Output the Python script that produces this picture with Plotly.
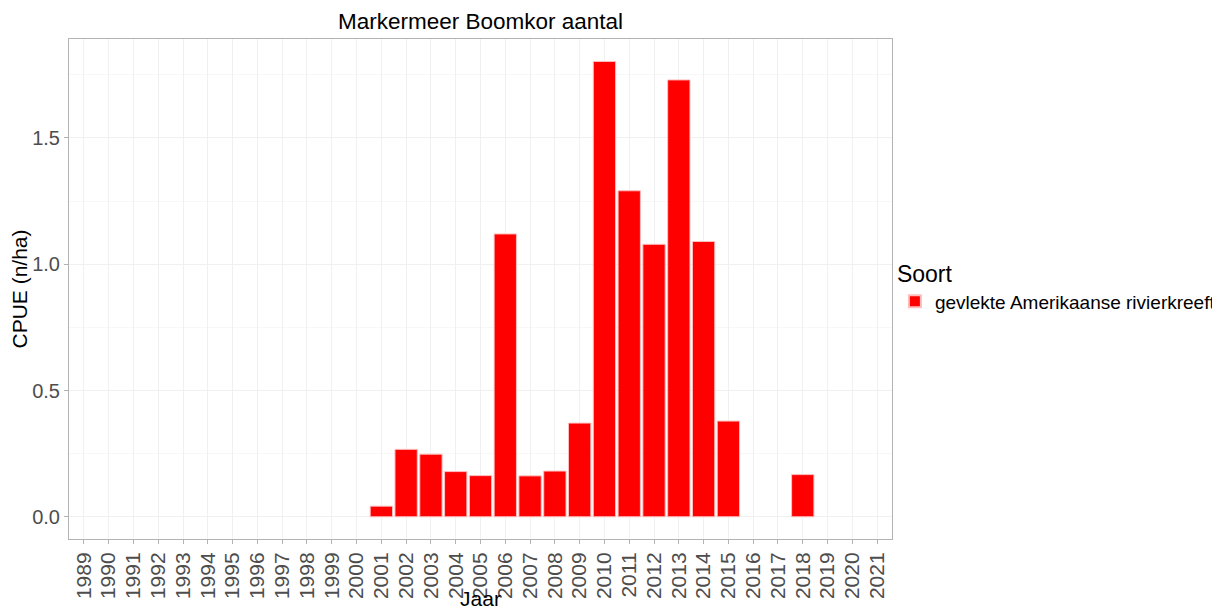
import plotly.graph_objects as go

years = [str(y) for y in range(1989, 2022)]
bar_years = ["2001", "2002", "2003", "2004", "2005", "2006", "2007", "2008",
             "2009", "2010", "2011", "2012", "2013", "2014", "2015", "2018"]
cpue = [0.042, 0.267, 0.248, 0.179, 0.163, 1.120, 0.162, 0.181,
        0.371, 1.803, 1.291, 1.079, 1.730, 1.090, 0.379, 0.167]
y_ticks = [0.0, 0.5, 1.0, 1.5]
y_tick_text = ["0.0", "0.5", "1.0", "1.5"]

fig = go.Figure()
fig.add_trace(go.Bar(
    x=bar_years, y=cpue, name="gevlekte Amerikaanse rivierkreeft",
    marker=dict(color="#ff0000", line=dict(color="rgba(255,190,190,1)", width=1)),
    width=0.9, showlegend=True,
))

grid = "#f0f0f0"
fig.update_layout(
    width=1212, height=602,
    margin=dict(l=61, r=328, t=31, b=71, autoexpand=False),
    paper_bgcolor="white", plot_bgcolor="white",
    font=dict(family="Liberation Sans, Arial, sans-serif", color="#000000"),
    title=dict(text="Markermeer Boomkor aantal", x=0.5, xref="paper", xanchor="center",
               y=0.978, yanchor="middle", font=dict(size=22.5, color="#000000")),
    bargap=0.1,
    legend=dict(title=dict(text="Soort", font=dict(size=23)),
                font=dict(size=19), x=1.0035, xanchor="left", y=0.505, yanchor="middle",
                itemwidth=30, itemsizing="constant", tracegroupgap=0),
    xaxis=dict(type="category", categoryorder="array", categoryarray=years,
               tickmode="array", tickvals=years, ticktext=years,
               range=[-0.6, 32.6], tickangle=-90, tickfont=dict(size=21, color="#4d4d4d"),
               automargin=False,
               showgrid=True, gridcolor=grid, gridwidth=1,
               ticks="outside", ticklen=4, tickcolor="#b3b3b3",
               showline=True, linecolor="#b3b3b3", mirror=True, linewidth=1,
               title=dict(text="Jaar", font=dict(size=21), standoff=0),
               zeroline=False),
    yaxis=dict(range=[-0.088, 1.892], tickvals=y_ticks, ticktext=y_tick_text,
               tickfont=dict(size=20, color="#4d4d4d"),
               automargin=False,
               showgrid=True, gridcolor=grid, gridwidth=1,
               minor=dict(dtick=0.25, tick0=0, showgrid=True, gridcolor="#f7f7f7", gridwidth=1),
               ticks="outside", ticklen=4, tickcolor="#b3b3b3",
               showline=True, linecolor="#b3b3b3", mirror=True, linewidth=1,
               title=dict(text="CPUE (n/ha)", font=dict(size=21), standoff=6),
               zeroline=False),
)

fig.write_html("out.html")
